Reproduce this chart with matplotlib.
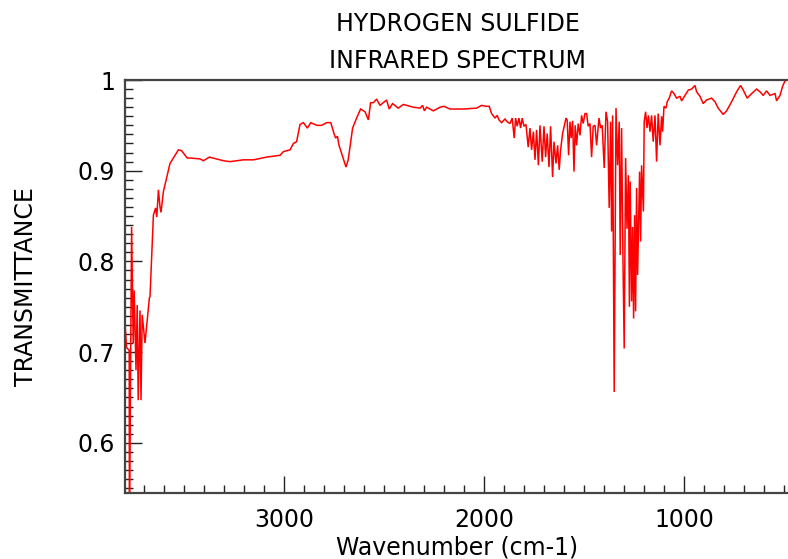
import matplotlib
matplotlib.use("Agg")
import matplotlib.pyplot as plt
from matplotlib.ticker import MultipleLocator

# Gas-phase IR spectrum of hydrogen sulfide (wavenumber in cm-1, transmittance)
wavenumber = [
    3795, 3787, 3774, 3773, 3762, 3754, 3749, 3740, 3734, 3729, 3720, 3715, 3709,
    3695, 3673, 3670, 3653, 3642, 3636, 3628, 3620, 3615, 3603, 3570, 3528, 3512,
    3484, 3470, 3420, 3403, 3373, 3337, 3303, 3270, 3203, 3153, 3087, 3020, 3003,
    2970, 2953, 2937, 2920, 2903, 2883, 2866, 2836, 2812, 2786, 2766, 2750, 2742,
    2733, 2725, 2690, 2679, 2657, 2637, 2617, 2595, 2578, 2567, 2553, 2537, 2520,
    2487, 2474, 2457, 2429, 2403, 2353, 2320, 2307, 2298, 2287, 2253, 2220, 2200,
    2170, 2103, 2037, 2012, 1987, 1974, 1962, 1945, 1934, 1925, 1912, 1895, 1884,
    1870, 1859, 1849, 1842, 1834, 1825, 1817, 1809, 1800, 1790, 1779, 1770, 1762,
    1753, 1745, 1737, 1728, 1720, 1709, 1700, 1692, 1684, 1675, 1667, 1657, 1650,
    1640, 1632, 1624, 1617, 1607, 1590, 1584, 1577, 1570, 1564, 1557, 1550, 1544,
    1537, 1529, 1520, 1512, 1504, 1495, 1487, 1479, 1470, 1462, 1454, 1445, 1437,
    1425, 1417, 1409, 1399, 1390, 1382, 1374, 1367, 1362, 1357, 1349, 1340, 1332,
    1324, 1319, 1312, 1305, 1299, 1292, 1285, 1278, 1273, 1269, 1262, 1257, 1252,
    1247, 1242, 1237, 1232, 1227, 1222, 1217, 1212, 1203, 1199, 1192, 1185, 1178,
    1170, 1162, 1154, 1145, 1137, 1129, 1120, 1112, 1107, 1100, 1090, 1084, 1074,
    1062, 1050, 1037, 1020, 1012, 995, 978, 962, 945, 937, 920, 904, 887, 862,
    845, 829, 804, 787, 762, 737, 717, 704, 684, 662, 637, 620, 604, 587, 570,
    545, 537, 520, 507, 495, 480,
]
transmittance = [
    0.732, 0.705, 0.702, 0.500, 0.838, 0.710, 0.768, 0.680, 0.752, 0.647, 0.746, 0.647, 0.741,
    0.710, 0.760, 0.761, 0.851, 0.859, 0.849, 0.879, 0.860, 0.854, 0.877, 0.908, 0.923, 0.922,
    0.914, 0.914, 0.913, 0.911, 0.915, 0.913, 0.911, 0.910, 0.912, 0.912, 0.915, 0.917, 0.921,
    0.923, 0.930, 0.932, 0.951, 0.953, 0.947, 0.953, 0.950, 0.950, 0.953, 0.953, 0.941, 0.936,
    0.938, 0.928, 0.904, 0.912, 0.947, 0.958, 0.968, 0.965, 0.956, 0.975, 0.975, 0.979, 0.972,
    0.978, 0.968, 0.974, 0.969, 0.973, 0.970, 0.969, 0.972, 0.966, 0.970, 0.966, 0.970, 0.971,
    0.968, 0.968, 0.969, 0.972, 0.971, 0.971, 0.963, 0.958, 0.961, 0.956, 0.953, 0.957, 0.954,
    0.952, 0.958, 0.936, 0.958, 0.949, 0.958, 0.947, 0.958, 0.949, 0.951, 0.926, 0.947, 0.923,
    0.943, 0.912, 0.945, 0.906, 0.950, 0.910, 0.949, 0.915, 0.941, 0.904, 0.949, 0.893, 0.932,
    0.908, 0.928, 0.901, 0.923, 0.941, 0.958, 0.956, 0.917, 0.954, 0.936, 0.955, 0.899, 0.950,
    0.928, 0.952, 0.939, 0.961, 0.952, 0.963, 0.963, 0.949, 0.952, 0.915, 0.949, 0.950, 0.928,
    0.958, 0.947, 0.950, 0.903, 0.965, 0.954, 0.859, 0.954, 0.833, 0.961, 0.656, 0.969, 0.906,
    0.954, 0.807, 0.947, 0.800, 0.704, 0.914, 0.836, 0.895, 0.750, 0.888, 0.756, 0.838, 0.737,
    0.851, 0.745, 0.881, 0.785, 0.844, 0.899, 0.822, 0.906, 0.855, 0.954, 0.965, 0.947, 0.961,
    0.943, 0.961, 0.932, 0.961, 0.910, 0.963, 0.928, 0.960, 0.943, 0.971, 0.969, 0.976, 0.980,
    0.988, 0.985, 0.980, 0.982, 0.977, 0.983, 0.989, 0.990, 0.994, 0.987, 0.982, 0.974, 0.978, 0.980,
    0.976, 0.969, 0.962, 0.966, 0.976, 0.987, 0.994, 0.989, 0.980, 0.985, 0.990, 0.987, 0.983, 0.988, 0.983,
    0.985, 0.977, 0.983, 0.993, 0.999, 1.000,
]

x_ticks = [3000, 2000, 1000]
y_ticks = [0.6, 0.7, 0.8, 0.9, 1.0]
y_tick_labels = ["0.6", "0.7", "0.8", "0.9", "1"]

W, H = 788, 559
fig = plt.figure(figsize=(W / 100, H / 100), dpi=100)
plt.rcParams["font.family"] = ["DejaVu Sans"]
FS = 17

# plot box in pixel coordinates
left_px, right_px, top_px, bottom_px = 125, 791, 80, 493
ax = fig.add_axes([left_px / W, 1 - bottom_px / H,
                   (right_px - left_px) / W, (bottom_px - top_px) / H])

ax.plot(wavenumber, transmittance, color="#ff0000", lw=1.1, solid_joinstyle="miter")

ax.set_xlim(3795, 465)
ax.set_ylim(0.5447, 1.0)

ax.set_xticks(x_ticks)
ax.set_xticklabels([str(t) for t in x_ticks])
ax.xaxis.set_minor_locator(MultipleLocator(100))
ax.set_yticks(y_ticks)
ax.set_yticklabels(y_tick_labels)
ax.yaxis.set_minor_locator(MultipleLocator(0.01))

ax.tick_params(which="both", direction="in", color="#222222", width=1.0,
               top=False, right=False, labelsize=FS, labelcolor="black")
ax.tick_params(axis="x", which="major", length=12, pad=11)
ax.tick_params(axis="x", which="minor", length=6)
ax.tick_params(axis="y", which="major", length=12, pad=7)
ax.tick_params(axis="y", which="minor", length=6)

for side in ("left", "bottom", "top", "right"):
    ax.spines[side].set_color("#444444")
    ax.spines[side].set_linewidth(1.6)

# titles and axis labels
cx = (left_px + 790) / 2 / W
fig.text(cx, 1 - 31 / H, "HYDROGEN SULFIDE", ha="center", va="baseline", fontsize=FS)
fig.text(cx, 1 - 68 / H, "INFRARED SPECTRUM", ha="center", va="baseline", fontsize=FS)
fig.text(cx, 1 - 554 / H, "Wavenumber (cm-1)", ha="center", va="baseline", fontsize=FS)
fig.text(33 / W, 1 - 287 / H, "TRANSMITTANCE", rotation=90, ha="center", va="baseline",
         fontsize=FS, rotation_mode="anchor")

fig.savefig("out.png", dpi=100)
